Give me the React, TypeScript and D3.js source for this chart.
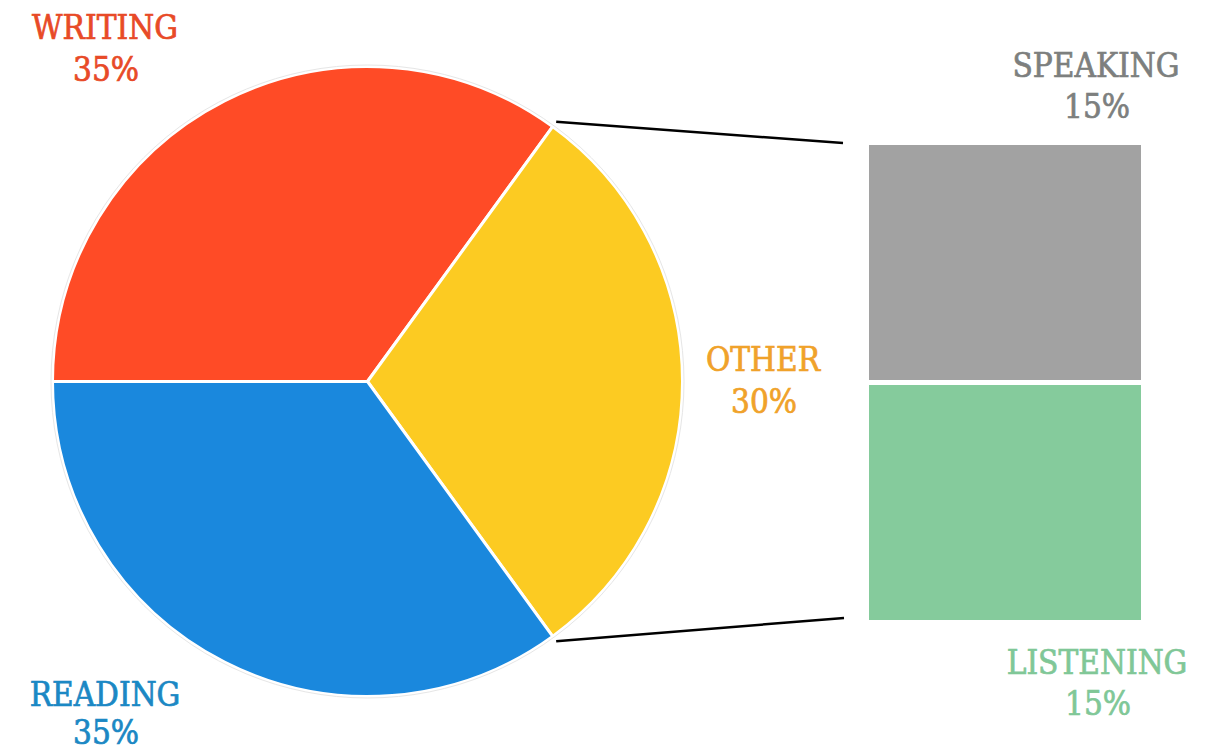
import React from "react";
import * as d3 from "d3";

const pieCategories = ["WRITING", "OTHER", "READING"];
const pieValues = [35, 30, 35];
const pieColors = ["#FF4B26", "#FCCB22", "#1A88DD"];
const pieLabelColors = ["#E84A27", "#F0A22A", "#1B88C4"];

const barCategories = ["LISTENING", "SPEAKING"];
const barValues = [15, 15];
const barColors = ["#85CB9C", "#A2A2A2"];
const barLabelColors = ["#80C797", "#7D7F7E"];

const W = 1215;
const H = 755;
const cx = 367.5;
const cy = 381.5;
const R = 315;

const font = "'DejaVu Serif Condensed', 'DejaVu Serif', serif";

export default function App() {
  const pie = d3
    .pie<number>()
    .sort(null)
    .startAngle(-Math.PI / 2)
    .endAngle((3 * Math.PI) / 2);
  const arcs = pie(pieValues);
  const arcGen = d3.arc<d3.PieArcDatum<number>>().innerRadius(0).outerRadius(R);

  const total = d3.sum(barValues);
  const y = d3.scaleLinear().domain([0, total]).range([620, 145]);
  const x0 = 869;
  const x1 = 1141;
  const stacked = barValues.map((v, i) => ({
    v,
    i,
    start: d3.sum(barValues.slice(0, i)),
    end: d3.sum(barValues.slice(0, i + 1)),
  }));

  const other = arcs[1];
  const pt = (a: number, r: number) => [cx + r * Math.sin(a), cy - r * Math.cos(a)];
  const [sx1, sy1] = pt(other.startAngle, R + 6);
  const [sx2, sy2] = pt(other.endAngle, R + 6);

  const pieLabelPos = [
    [105, 39],
    [763, 371],
    [105, 706],
  ];
  const barLabelPos = [
    [1097, 674],
    [1096, 77],
  ];

  const textStyle = { fontStretch: "condensed" as const, strokeWidth: 0.7 };

  return (
    <svg
      width={W}
      height={H}
      style={{ position: "absolute", left: 0, top: 0, background: "#fff" }}
    >
      <g>
        {arcs.map((a, i) => (
          <path
            key={pieCategories[i]}
            d={arcGen(a) || ""}
            transform={`translate(${cx},${cy})`}
            fill={pieColors[i]}
            stroke="#ffffff"
            strokeWidth={3}
            strokeLinejoin="round"
          />
        ))}
        <circle cx={cx} cy={cy} r={R + 1.5} fill="none" stroke="#e6e6e6" strokeWidth={1} />
      </g>

      <line x1={sx1} y1={sy1} x2={843} y2={y(total) - 2} stroke="#000" strokeWidth={2.5} />
      <line x1={sx2} y1={sy2} x2={844} y2={y(0) - 2} stroke="#000" strokeWidth={2.5} />

      {stacked.map((s) => (
        <rect
          key={barCategories[s.i]}
          x={x0}
          width={x1 - x0}
          y={y(s.end) + (s.end < total ? 2.5 : 0)}
          height={y(s.start) - y(s.end) - (s.start > 0 ? 2.5 : 0) - (s.end < total ? 2.5 : 0)}
          fill={barColors[s.i]}
        />
      ))}

      {pieCategories.map((c, i) => (
        <text
          key={c}
          x={pieLabelPos[i][0]}
          y={pieLabelPos[i][1]}
          textAnchor="middle"
          fill={pieLabelColors[i]}
          stroke={pieLabelColors[i]}
          fontFamily={font}
          fontSize={33}
          style={textStyle}
        >
          <tspan x={pieLabelPos[i][0]}>{c}</tspan>
          <tspan x={pieLabelPos[i][0] + 1} dy={i === 2 ? 38 : 42}>{`${pieValues[i]}%`}</tspan>
        </text>
      ))}
      {barCategories.map((c, i) => (
        <text
          key={c}
          x={barLabelPos[i][0]}
          y={barLabelPos[i][1]}
          textAnchor="middle"
          fill={barLabelColors[i]}
          stroke={barLabelColors[i]}
          fontFamily={font}
          fontSize={33}
          style={textStyle}
        >
          <tspan x={barLabelPos[i][0]}>{c}</tspan>
          <tspan x={barLabelPos[i][0] + 1} dy={41}>{`${barValues[i]}%`}</tspan>
        </text>
      ))}
    </svg>
  );
}
